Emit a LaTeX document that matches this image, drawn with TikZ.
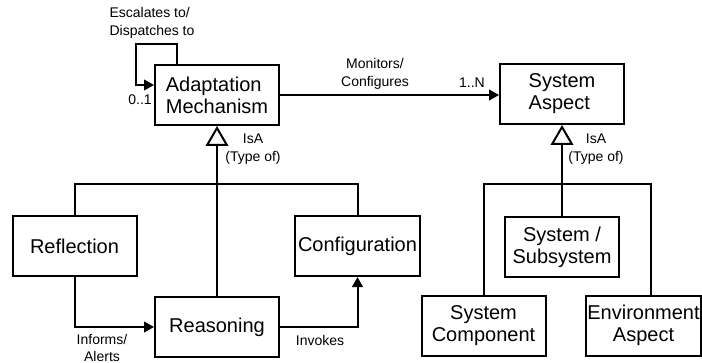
\documentclass[tikz,border=0pt]{standalone}
\usepackage{fontspec}
\setmainfont{Liberation Sans}
\usetikzlibrary{arrows.meta}
\tikzset{every picture/.style={line width=1.5pt}}
\tikzset{
  umlbox/.style={draw, minimum width=93pt, minimum height=45pt, inner sep=2pt, font=\fontsize{15}{16.5}\selectfont},
  lbl/.style={font=\fontsize{10.5}{13}\selectfont, align=center, inner sep=0pt},
  assoc/.style={-{Triangle[length=7.5pt,width=8pt]}},
  isa/.style={-{Triangle[open,length=15pt,width=17pt,fill=white]}},
}

\begin{document}
\begin{tikzpicture}[x=0.75pt,y=0.75pt,yscale=-1,xscale=1]
\useasboundingbox (0,0) rectangle (702,363);

%Shape: Rectangle [Adaptation Mechanism]
\draw (217,95) node (adapt) [umlbox, align=left] {Adaptation\\Mechanism};
%Shape: Rectangle [System Aspect]
\draw (562,94) node (sysasp) [umlbox, align=left] {System\\Aspect};
%Shape: Rectangle [Reflection]
\draw (74.5,246) node (refl) [umlbox] {Reflection};
%Shape: Rectangle [Reasoning]
\draw (217,327) node (reason) [umlbox] {Reasoning};
%Shape: Rectangle [Configuration]
\draw (357.5,246) node (config) [umlbox] {Configuration};
%Shape: Rectangle [System / Subsystem]
\draw (562,247) node (subsys) [umlbox, minimum width=86pt, align=center] {System /\\Subsystem};
%Shape: Rectangle [System Component]
\draw (483.5,325.5) node (comp) [umlbox, align=center] {System\\Component};
%Shape: Rectangle [Environment Aspect]
\draw (643.5,325.5) node (env) [umlbox, minimum width=84pt, inner sep=1pt, align=center] {Environment\\Aspect};

%bus lines
\coordinate (busL) at (0,184);
\coordinate (busR) at (0,184);

%Straight Lines [self loop]
\draw [assoc] (177,0 |- adapt.north) -- (177,44) -- (136,44) |- (adapt.west |- 0,85);
%Straight Lines [monitors]
\draw [assoc] (adapt.east) -- (adapt.east -| sysasp.west);
%Straight Lines [isa left]
\draw [isa] (reason.north) -- (adapt.south);
\draw (refl.north) -- (refl.north |- busL) -- (config.north |- busL) -- (config.north);
%Straight Lines [isa right]
\draw [isa] (subsys.north) -- (sysasp.south);
\draw (comp.north) -- (comp.north |- busR) -- (651,0 |- busR) -- (651,0 |- env.north);
%Straight Lines [informs]
\draw [assoc] (refl.south) |- (reason.west);
%Straight Lines [invokes]
\draw [assoc] (reason.east) -| (config.south);

% Text Node
\draw (152,23) node (lloop) [lbl, align=left] {Escalates to/\\Dispatches to};
% Text Node
\draw (140,100) node (lzero) [lbl] {0..1};
% Text Node
\draw (375,74) node (lmon) [lbl] {Monitors/\\Configures};
% Text Node
\draw (472,83) node (lone) [lbl] {1..N};
% Text Node
\draw (253,149) node (lisal) [lbl] {IsA\\(Type of)};
% Text Node
\draw (596,149) node (lisar) [lbl] {IsA\\(Type of)};
% Text Node
\draw (102,348) node (linf) [lbl] {Informs/\\Alerts};
% Text Node
\draw (320,340) node (linv) [lbl] {Invokes};

\end{tikzpicture}
\end{document}
